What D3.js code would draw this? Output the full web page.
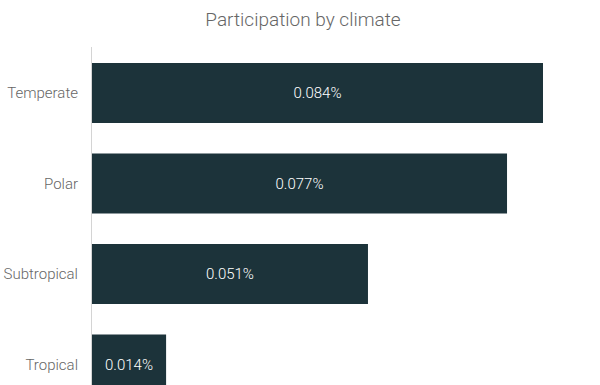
<!DOCTYPE html>
<html><head><meta charset="utf-8">
<script src="https://cdn.jsdelivr.net/npm/d3@7"></script>
<style>body{margin:0;background:#fff}svg{display:block}</style>
</head><body>
<svg id="c" width="600" height="385"></svg>
<script>
const title = "Participation by climate";
const categories = ["Temperate", "Polar", "Subtropical", "Tropical"];
const values = [0.0840, 0.0773, 0.0514, 0.0138];
const labels = ["0.084%", "0.077%", "0.051%", "0.014%"];

const svg = d3.select("#c");
const W = 600, H = 385;
const x = d3.scaleLinear().domain([0, 0.084]).range([92, 543]);
const step = 90.5, pin = 30.5 / 90.5;
const y = d3.scaleBand().domain(categories).range([47.75, 47.75 + 4 * step])
  .paddingInner(pin).paddingOuter(pin / 2);

svg.append("text").attr("x", 303).attr("y", 26).attr("text-anchor", "middle")
  .attr("font-family", "Roboto").attr("font-weight", 300).attr("font-size", 19)
  .attr("fill", "#666").text(title);

svg.append("line").attr("x1", 91.5).attr("x2", 91.5).attr("y1", 47).attr("y2", H)
  .attr("stroke", "#d4d4d4").attr("stroke-width", 1);

svg.selectAll("rect.bar").data(categories).join("rect").attr("class", "bar")
  .attr("x", x(0)).attr("y", d => y(d))
  .attr("width", (d, i) => x(values[i]) - x(0)).attr("height", y.bandwidth())
  .attr("fill", "#1c333a");

const yAxis = d3.axisLeft(y).tickSize(0).tickPadding(13);
const g = svg.append("g").attr("transform", "translate(91,0)").call(yAxis);
g.select(".domain").remove();
g.selectAll("text").attr("font-family", "Roboto").attr("font-weight", 300)
  .attr("font-size", 15).attr("fill", "#666").attr("dy", "0.35em");

svg.selectAll("text.val").data(categories).join("text").attr("class", "val")
  .attr("x", (d, i) => (x(0) + x(values[i])) / 2)
  .attr("y", d => y(d) + y.bandwidth() / 2).attr("dy", "0.35em")
  .attr("text-anchor", "middle").attr("font-family", "Roboto").attr("font-weight", 300)
  .attr("font-size", 15).attr("fill", "#fff").text((d, i) => labels[i]);
</script>
</body></html>
